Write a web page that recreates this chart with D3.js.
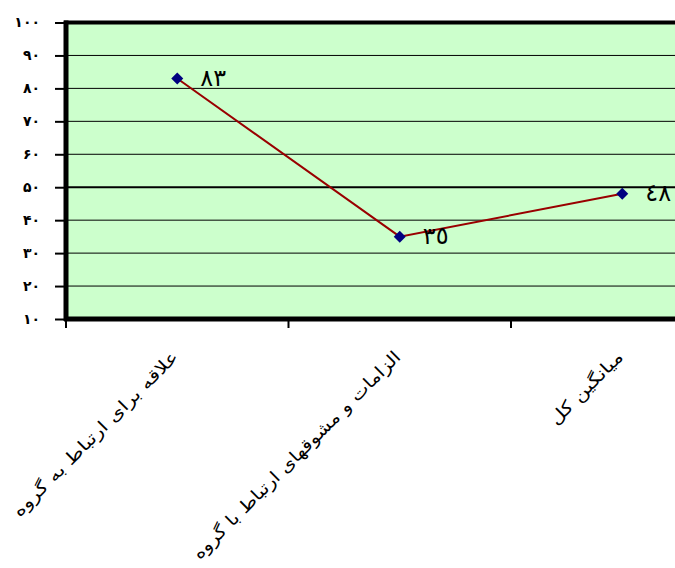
<!DOCTYPE html>
<html>
<head>
<meta charset="utf-8">
<script src="https://cdn.jsdelivr.net/npm/d3@7"></script>
<style>
  html, body { margin: 0; padding: 0; background: #ffffff; }
  svg { display: block; }
</style>
</head>
<body>
<svg id="chart" width="675" height="568"></svg>
<script>
// Categories (Persian), values and their printed labels
const categories = [
  "علاقه برای ارتباط به گروه",
  "الزامات و مشوقهای ارتباط با گروه",
  "میانگین کل"
];
const values = [83, 35, 48];
const valueLabels = ["٨٣", "٣٥", "٤٨"];
const yTicks = [10, 20, 30, 40, 50, 60, 70, 80, 90, 100];
const yTickLabels = ["۱۰", "۲۰", "۳۰", "۴۰", "۵۰", "۶۰", "۷۰", "۸۰", "۹۰", "۱۰۰"];

const svg = d3.select("#chart");
const plotLeft = 66, plotTop = 22.5, plotBottom = 319, bandW = 222.5;
const plotRight = plotLeft + bandW * categories.length;

const x = d3.scaleBand().domain(categories).range([plotLeft, plotRight]).padding(0);
const y = d3.scaleLinear().domain([10, 100]).range([plotBottom, plotTop]);

// plot background
svg.append("rect")
  .attr("x", plotLeft).attr("y", plotTop)
  .attr("width", plotRight - plotLeft).attr("height", plotBottom - plotTop)
  .attr("fill", "#ccffcc");

// horizontal gridlines
svg.append("g").selectAll("line")
  .data(yTicks.filter(d => d > 10 && d < 100))
  .join("line")
  .attr("x1", plotLeft).attr("x2", plotRight)
  .attr("y1", d => y(d)).attr("y2", d => y(d))
  .attr("stroke", "#000")
  .attr("stroke-width", d => d === 50 ? 2 : 1);

// frame: top, left and bottom edges
svg.append("line").attr("x1", plotLeft - 2).attr("x2", plotRight).attr("y1", plotTop).attr("y2", plotTop)
  .attr("stroke", "#000").attr("stroke-width", 4);
svg.append("line").attr("x1", plotLeft).attr("x2", plotLeft).attr("y1", plotTop - 2).attr("y2", plotBottom + 2)
  .attr("stroke", "#000").attr("stroke-width", 5);
svg.append("line").attr("x1", plotLeft - 2).attr("x2", plotRight).attr("y1", plotBottom).attr("y2", plotBottom)
  .attr("stroke", "#000").attr("stroke-width", 5);

// y axis ticks and labels
const yAxis = d3.axisLeft(y)
  .tickValues(yTicks)
  .tickSize(10)
  .tickPadding(15)
  .tickFormat((d, i) => yTickLabels[i]);
const yg = svg.append("g").attr("transform", `translate(${plotLeft - 1},0)`).call(yAxis);
yg.select(".domain").remove();
yg.selectAll(".tick line").attr("stroke", "#000").attr("stroke-width", 2);
yg.selectAll(".tick text")
  .attr("font-family", "DejaVu Sans")
  .attr("font-size", 14)
  .attr("font-weight", "bold")
  .attr("fill", "#000");

// x axis tick marks at category boundaries
const boundaries = categories.map(c => x(c)).concat([plotRight]);
svg.append("g").selectAll("line")
  .data(boundaries)
  .join("line")
  .attr("x1", d => d).attr("x2", d => d)
  .attr("y1", plotBottom).attr("y2", plotBottom + 9)
  .attr("stroke", "#000").attr("stroke-width", 2);

// category labels, rotated; run lengths keep the long Persian captions in their slot
const labelRun = [226, 286, 96];
svg.append("g").selectAll("text")
  .data(categories)
  .join("text")
  .attr("transform", d => `translate(${x(d) + bandW / 2 + 2},${plotBottom + 39}) rotate(-45)`)
  .attr("text-anchor", "end")
  .attr("font-family", "DejaVu Sans")
  .attr("font-size", 17)
  .attr("textLength", (d, i) => labelRun[i])
  .attr("lengthAdjust", "spacingAndGlyphs")
  .attr("fill", "#000")
  .text(d => d);

// series line
const pts = categories.map((c, i) => [x(c) + bandW / 2, y(values[i])]);
svg.append("path")
  .attr("d", d3.line()(pts))
  .attr("fill", "none")
  .attr("stroke", "#990000")
  .attr("stroke-width", 2);

// markers: squares turned on their corner
svg.append("g").selectAll("path")
  .data(pts)
  .join("path")
  .attr("transform", d => `translate(${d[0]},${d[1]}) rotate(45)`)
  .attr("d", d3.symbol(d3.symbolSquare, 72))
  .attr("fill", "#000080");

// value labels
svg.append("g").selectAll("text")
  .data(pts)
  .join("text")
  .attr("x", d => d[0] + 23)
  .attr("y", d => d[1] + 7)
  .attr("font-family", "DejaVu Sans")
  .attr("font-size", 24)
  .attr("fill", "#000")
  .text((d, i) => valueLabels[i]);
</script>
</body>
</html>
